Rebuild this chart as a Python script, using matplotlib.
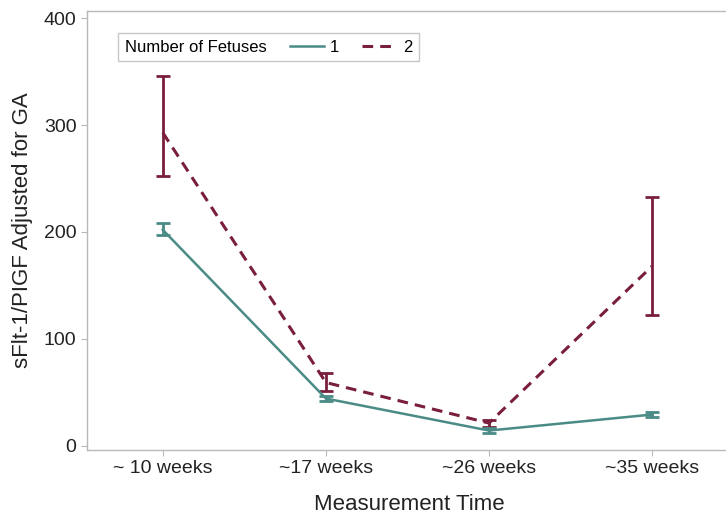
import matplotlib.pyplot as plt
from matplotlib.lines import Line2D
import numpy as np

plt.rcParams['font.family'] = ['Liberation Sans', 'DejaVu Sans']

times = ["~ 10 weeks", "~17 weeks", "~26 weeks", "~35 weeks"]

# one fetus
mean_1 = [202, 44, 14, 29]
low_1 = [197, 42, 12, 27]
high_1 = [208, 46, 16, 31]

# two fetuses
mean_2 = [293, 59, 21, 168]
low_2 = [252, 51, 17, 122]
high_2 = [346, 68, 24, 233]

teal = "#4a8b86"
wine = "#7a1f3b"
dash = (0, (3.5, 2.3))

fig = plt.figure(figsize=(7.26, 5.15), dpi=100)
ax = fig.add_axes([87 / 726, 65 / 515, 645 / 726, 439 / 515])

x = np.arange(len(times))
m2 = np.array(mean_2)
err2 = [m2 - np.array(low_2), np.array(high_2) - m2]
ax.errorbar(x, m2, yerr=err2, color=wine, lw=2.2, ls=dash,
            elinewidth=2, capsize=5, capthick=2)
m1 = np.array(mean_1)
err1 = [m1 - np.array(low_1), np.array(high_1) - m1]
ax.errorbar(x, m1, yerr=err1, color=teal, lw=1.8,
            elinewidth=2, capsize=5, capthick=2)

ax.set_xlim(-0.465, 3.49)
ax.set_ylim(-4.2, 407)
ax.set_xticks(x)
ax.set_xticklabels(times)
ax.set_yticks([0, 100, 200, 300, 400])
for s in ax.spines.values():
    s.set_color("#b8b8b8")
    s.set_linewidth(1)
ax.tick_params(colors="#b8b8b8", labelcolor="#222222", labelsize=14, length=4)
ax.set_xlabel("Measurement Time", fontsize=16, color="#222222", labelpad=12)
ax.set_ylabel("sFlt-1/PIGF Adjusted for GA", fontsize=16, color="#222222", labelpad=8)

handles = [Line2D([], [], color=teal, lw=1.8),
           Line2D([], [], color=wine, lw=2.2, ls=dash)]
leg = ax.legend(handles, ["1", "2"], title="Number of Fetuses", ncol=2,
                loc="upper left", bbox_to_anchor=(0.048, 0.95), borderaxespad=0,
                fontsize=12, title_fontsize=12, handlelength=2.05,
                columnspacing=1.4, fancybox=False, edgecolor="#c8c8c8",
                framealpha=1, borderpad=0.4, handletextpad=0.36)
leg.get_frame().set_linewidth(1)
# put the title on the same row as the entries
box = leg.get_children()[0]
title = box.get_children()[0]
hpack = box.get_children()[1]
box._children = [hpack]
hpack._children = [title] + hpack.get_children()

fig.savefig("out.png", dpi=100)
